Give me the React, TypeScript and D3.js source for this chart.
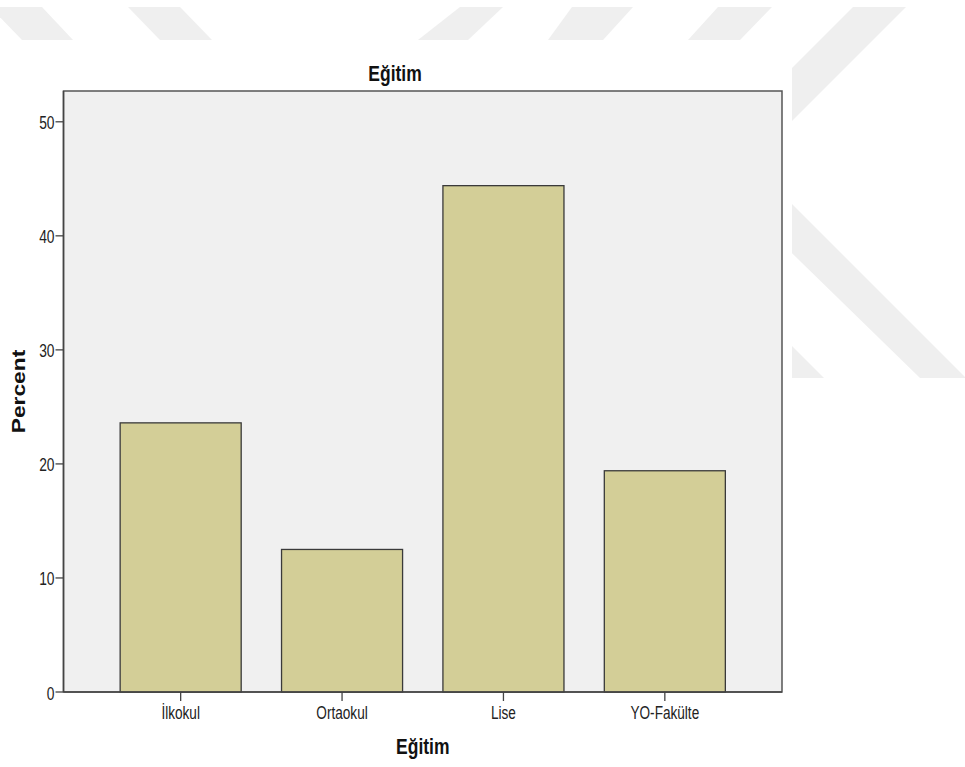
import React from "react";
import * as d3 from "d3";

const categories = ["İlkokul", "Ortaokul", "Lise", "YO-Fakülte"];
const percents = [23.6, 12.5, 44.4, 19.4];
const yTicks = [0, 10, 20, 30, 40, 50];
const chartTitle = "Eğitim";
const xTitle = "Eğitim";
const yTitle = "Percent";

// faint background watermark (decoration of the source page)
const watermark: [number, number][][] = [
  [[-10, 7], [42, 7], [73, 40], [22, 40]],
  [[128, 7], [180, 7], [212, 40], [160, 40]],
  [[460, 7], [503, 7], [468, 40], [418, 40]],
  [[572, 7], [633, 7], [603, 40], [548, 40]],
  [[718, 7], [772, 7], [740, 40], [688, 40]],
  [[853, 7], [906, 7], [700, 213], [647, 213]],
  [[760, 172], [791, 203], [966, 378], [920, 378], [760, 222]],
  [[780, 334], [824, 378], [780, 378]],
];

const W = 965;
const H = 767;
const L = 63.5;
const R = 782;
const T = 91;
const B = 692;
const SY = 1.3; // vertical stretch of the source text

export default function App() {
  const x = d3
    .scaleBand<string>()
    .domain(categories)
    .range([L, R])
    .paddingInner(0.25)
    .paddingOuter(0.351);
  const y = d3.scaleLinear().domain([0, 52.7]).range([B, T]);
  const line = d3.line();
  const font = "'Liberation Sans', Arial, sans-serif";
  const cx = (L + R) / 2;

  return (
    <svg
      width={W}
      height={H}
      style={{ position: "absolute", left: 0, top: 0 }}
      fontFamily={font}
    >
      <defs>
        <clipPath id="wm">
          <rect x={0} y={0} width={W} height={40} />
          <rect x={792} y={0} width={W - 792} height={H} />
        </clipPath>
      </defs>
      <rect x={0} y={0} width={W} height={H} fill="#ffffff" />
      <g clipPath="url(#wm)">
        {watermark.map((p, i) => (
          <path key={i} d={line(p) + "Z"} fill="#efefef" />
        ))}
      </g>

      <text
        transform={`translate(395,81) scale(1,${SY})`}
        textAnchor="middle"
        fontSize={17.5}
        fontWeight="bold"
        fill="#111"
      >
        {chartTitle}
      </text>

      <rect
        x={L}
        y={T}
        width={R - L}
        height={B - T}
        fill="#f0f0f0"
        stroke="#555"
        strokeWidth={1.5}
      />

      {categories.map((c, i) => (
        <rect
          key={c}
          x={x(c)}
          y={y(percents[i])}
          width={x.bandwidth()}
          height={y(0) - y(percents[i])}
          fill="#d3ce97"
          stroke="#3a3a3a"
          strokeWidth={1.3}
        />
      ))}

      <line x1={L} x2={L} y1={T} y2={B} stroke="#444" strokeWidth={1.5} />
      <line x1={L} x2={R} y1={B} y2={B} stroke="#444" strokeWidth={1.5} />

      {yTicks.map((t) => (
        <g key={t}>
          <line x1={L - 8} x2={L} y1={y(t)} y2={y(t)} stroke="#444" strokeWidth={1.3} />
          <text
            transform={`translate(${L - 9},${y(t) + 7.5}) scale(1,${SY})`}
            textAnchor="end"
            fontSize={13.8}
            fill="#222"
          >
            {t}
          </text>
        </g>
      ))}

      {categories.map((c) => {
        const px = (x(c) as number) + x.bandwidth() / 2;
        return (
          <g key={c}>
            <line x1={px} x2={px} y1={B} y2={B + 9} stroke="#444" strokeWidth={1.3} />
            <text
              transform={`translate(${px},719) scale(1,${SY})`}
              textAnchor="middle"
              fontSize={13.6}
              fill="#222"
            >
              {c}
            </text>
          </g>
        );
      })}

      <text
        transform={`translate(${cx},754) scale(1,${SY})`}
        textAnchor="middle"
        fontSize={17.5}
        fontWeight="bold"
        fill="#111"
      >
        {xTitle}
      </text>

      <text
        transform={`translate(25,${(T + B) / 2}) rotate(-90) scale(${SY},1)`}
        textAnchor="middle"
        fontSize={17.5}
        fontWeight="bold"
        fill="#111"
      >
        {yTitle}
      </text>
    </svg>
  );
}
